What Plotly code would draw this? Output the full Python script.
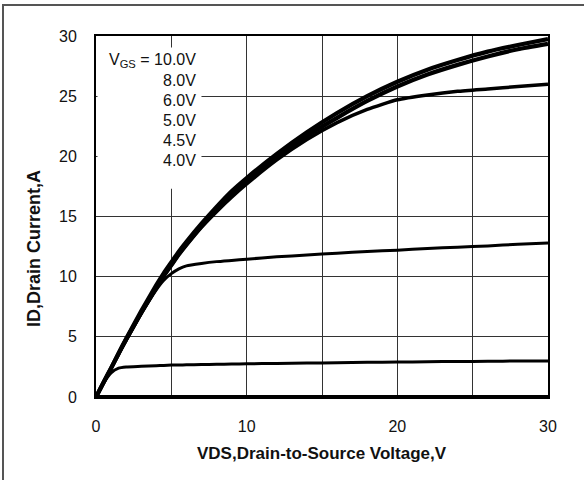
import plotly.graph_objects as go

# VDS sample points (V)
vds = [0, 0.5, 1, 1.5, 2, 3, 4, 4.5, 5, 5.5, 6, 7, 8, 9, 10, 12, 14, 16, 18, 20, 22, 24, 26, 28, 30]

# ID (A) for each VGS curve
id_10v = [0, 1.2, 2.4, 3.65, 4.85, 7.15, 9.3, 10.3, 11.2, 12.1, 12.9, 14.4, 15.8, 17.1, 18.2, 20.2, 22.0, 23.6, 25.0, 26.2, 27.2, 28.0, 28.7, 29.25, 29.75]
id_8v = [0, 1.2, 2.4, 3.6, 4.8, 7.0, 9.1, 10.1, 11.0, 11.9, 12.7, 14.2, 15.6, 16.8, 17.9, 19.9, 21.7, 23.2, 24.6, 25.8, 26.8, 27.6, 28.3, 28.9, 29.35]
id_6v = [0, 1.2, 2.35, 3.55, 4.7, 6.95, 9.0, 10.0, 10.9, 11.8, 12.6, 14.1, 15.4, 16.6, 17.7, 19.7, 21.4, 22.8, 23.9, 24.7, 25.1, 25.4, 25.6, 25.8, 26.0]
id_5v = [0, 1.2, 2.4, 3.6, 4.7, 6.9, 8.9, 9.7, 10.25, 10.65, 10.9, 11.1, 11.25, 11.35, 11.45, 11.65, 11.8, 11.95, 12.1, 12.2, 12.35, 12.45, 12.55, 12.7, 12.8]
id_45v = [0, 1.15, 2.0, 2.4, 2.5, 2.55, 2.6, 2.62, 2.65, 2.66, 2.67, 2.7, 2.72, 2.74, 2.76, 2.79, 2.82, 2.85, 2.88, 2.9, 2.93, 2.95, 2.97, 2.99, 3.0]
id_4v = [0, 0.02, 0.03, 0.04, 0.04, 0.05, 0.05, 0.05, 0.05, 0.05, 0.05, 0.05, 0.05, 0.05, 0.05, 0.05, 0.05, 0.05, 0.05, 0.05, 0.05, 0.05, 0.05, 0.05, 0.05]

vgs_labels = ["V<sub>GS</sub> = 10.0V", "8.0V", "6.0V", "5.0V", "4.5V", "4.0V"]
label_y = [27.95, 26.3, 24.6, 22.95, 21.3, 19.65]

x_ticks = [0, 10, 20, 30]
y_ticks = [0, 5, 10, 15, 20, 25, 30]

FONT = "Arial, Liberation Sans, sans-serif"

fig = go.Figure()
widths = [3, 3, 3, 3.5, 4.2, 4.2]
for ys, w in zip([id_4v, id_45v, id_5v, id_6v, id_8v, id_10v], widths):
    fig.add_trace(go.Scatter(x=vds, y=ys, mode="lines",
                             line=dict(color="black", width=w, shape="spline", smoothing=0.5),
                             showlegend=False, hoverinfo="skip"))

fig.update_xaxes(range=[0, 30], tickvals=x_ticks, ticktext=[str(v) for v in x_ticks],
                 showgrid=True, gridcolor="#333333", gridwidth=1,
                 showline=True, linecolor="black", linewidth=2, mirror=True,
                 zeroline=False, ticks="", ticklabelstandoff=14,
                 tickfont=dict(family=FONT, size=16, color="#111"))
fig.update_xaxes(minor=dict(tickvals=[5, 15, 25], showgrid=True, gridcolor="#333333", gridwidth=1))
fig.update_yaxes(range=[0, 30], tickvals=y_ticks, ticktext=[str(v) for v in y_ticks],
                 showgrid=True, gridcolor="#333333", gridwidth=1,
                 showline=True, linecolor="black", linewidth=2, mirror=True,
                 zeroline=False, ticks="", ticklabelstandoff=14,
                 tickfont=dict(family=FONT, size=16, color="#111"))

shapes = [
    # white box behind the VGS labels
    dict(type="rect", xref="x", yref="y", x0=0.1, x1=7.0, y0=17.3, y1=29.05,
         fillcolor="white", line=dict(width=0), layer="above"),
    # outer frame of the whole chart
    dict(type="rect", xref="paper", yref="paper",
         x0=-93 / 452, x1=(600 - 96) / 452, y0=-(500 - 397) / 361, y1=(397 - 5) / 361,
         line=dict(color="#555555", width=2), fillcolor="rgba(0,0,0,0)", layer="above"),
    # thick bottom axis line
    dict(type="line", xref="x", yref="y", x0=0, x1=30, y0=0, y1=0,
         line=dict(color="black", width=4), layer="above"),
]

annotations = []
for txt, yy in zip(vgs_labels, label_y):
    annotations.append(dict(x=6.8, y=yy, xref="x", yref="y", text=txt, showarrow=False,
                            xanchor="right", yanchor="middle",
                            font=dict(family=FONT, size=16, color="#111")))
annotations.append(dict(x=0.5, y=-(453 - 397) / 361, xref="paper", yref="paper",
                        text="<b>VDS,Drain-to-Source Voltage,V</b>", showarrow=False,
                        xanchor="center", yanchor="middle",
                        font=dict(family=FONT, size=17, color="#111")))
annotations.append(dict(x=-(96 - 34) / 452, y=(397 - 249) / 361, xref="paper", yref="paper",
                        text="<b>ID,Drain Current,A</b>", showarrow=False, textangle=-90,
                        xanchor="center", yanchor="middle",
                        font=dict(family=FONT, size=18, color="#111")))

fig.update_layout(width=584, height=480,
                  margin=dict(l=96, r=36, t=36, b=83),
                  paper_bgcolor="white", plot_bgcolor="white",
                  shapes=shapes, annotations=annotations,
                  font=dict(family=FONT))

fig.write_html("out.html")
